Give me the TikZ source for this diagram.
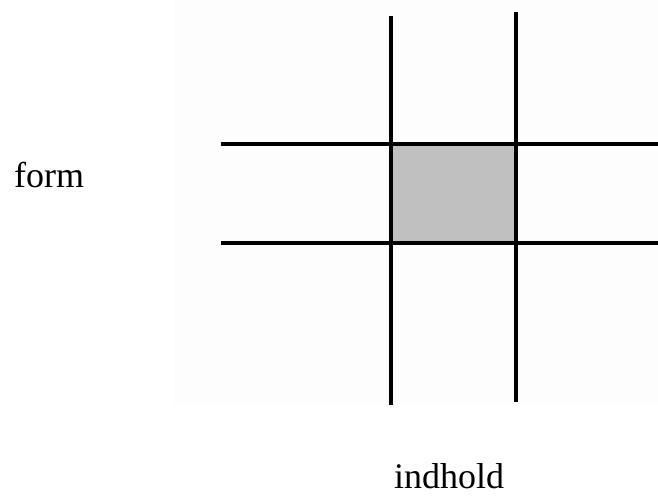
\documentclass[tikz,border=0pt]{standalone}
\usepackage{fontspec}
\setmainfont{Liberation Serif}
\usepackage{xcolor}
\usetikzlibrary{positioning}
\definecolor{cellgray}{HTML}{C0C0C0}
\definecolor{panelgray}{HTML}{FDFDFD}
\tikzset{
    gridline/.style={line width=4pt, black},
    axislabel/.style={inner sep=0pt, anchor=base west, font=\fontsize{36}{40}\selectfont}
}

\begin{document}
\begin{tikzpicture}[x=1pt, y=-1pt]
        \useasboundingbox (0, 0) rectangle (658, 496);
        \fill[panelgray] (174, 0) rectangle (658, 405);

        % the shaded cell
        \fill[cellgray] (391, 144) rectangle (516, 243);

        % vertical lines
        \draw[gridline, line width=3.2pt] (391, 16) -- (391, 405);
        \draw[gridline, line width=3.2pt] (516, 12) -- (516, 402);

        % horizontal lines
        \draw[gridline] (221, 144) -- (658, 144);
        \draw[gridline] (221, 243) -- (658, 243);

        \node[axislabel] at (14, 187)   (form) {form};
        \node[axislabel] at (394, 488)  (indhold) {indhold};
    \end{tikzpicture}
\end{document}
